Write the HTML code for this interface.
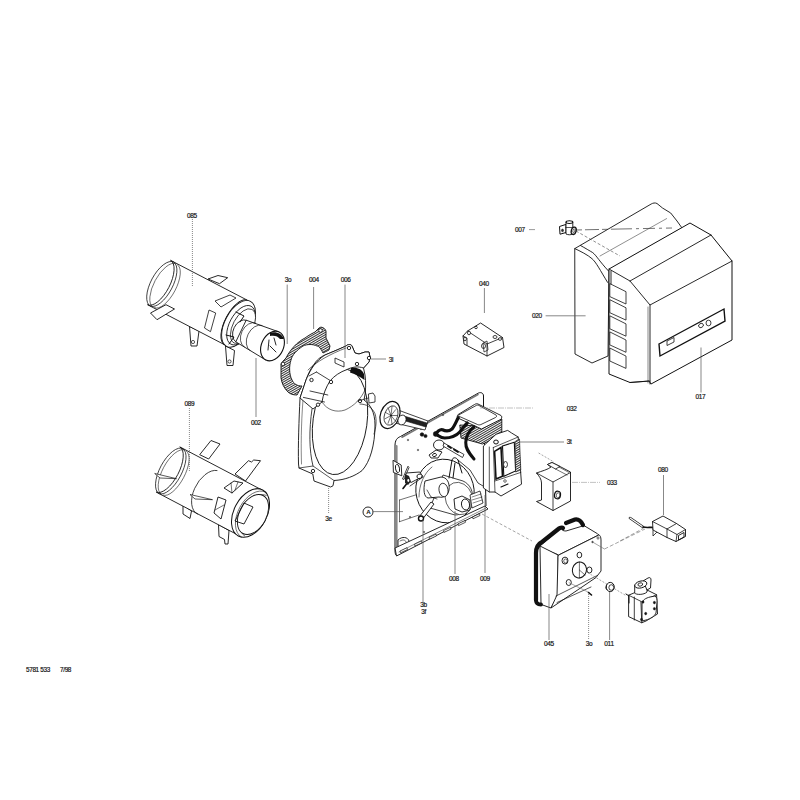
<!DOCTYPE html><html><head><meta charset="utf-8"><style>html,body{margin:0;padding:0;background:#fff;width:800px;height:800px;overflow:hidden}</style></head><body><svg width="800" height="800" viewBox="0 0 800 800" style="position:absolute;left:0;top:0">
<defs><pattern id="hatch" width="2" height="2" patternUnits="userSpaceOnUse" patternTransform="rotate(60)"><rect width="2" height="2" fill="#fff"/><rect width="1" height="2" fill="#333"/></pattern></defs>
<g font-family="Liberation Sans, sans-serif" fill="#111">
<polygon points="208.0,279.0 218.0,275.5 227.7,277.7 219.5,283.7" fill="#fff" stroke="#111" stroke-width="0.9" stroke-linejoin="round" />
<polygon points="189.5,326.5 199.0,331.0 197.0,346.0 191.0,346.0" fill="#fff" stroke="#111" stroke-width="0.9" stroke-linejoin="round" />
<polygon points="225.5,346.0 234.5,350.5 233.0,365.5 227.0,365.5" fill="#fff" stroke="#111" stroke-width="0.9" stroke-linejoin="round" />
<ellipse cx="193" cy="342" rx="1.6" ry="1.6" transform="rotate(0 193 342)" fill="none" stroke="#111" stroke-width="0.7" />
<ellipse cx="229.5" cy="361.5" rx="1.6" ry="1.6" transform="rotate(0 229.5 361.5)" fill="none" stroke="#111" stroke-width="0.7" />
<path d="M147.5,304.7 L224.5,344.7 L247.5,300.3 L170.5,260.3 A11.0,25.0 27.5 0 1 147.5,304.7 Z" fill="#fff" stroke="#111" stroke-width="0.9"/>
<ellipse cx="236" cy="322.5" rx="11.0" ry="25" transform="rotate(27.45099777093223 236 322.5)" fill="#fff" stroke="#111" stroke-width="0.9" />
<path d="M150.1,306.1 A11.0,25.0 28.0 0 1 173.5,261.9" fill="none" stroke="#111" stroke-width="0.8" stroke-linejoin="round" stroke-linecap="round" />
<path d="M152.5,306.8 A10.5,24.5 28.0 0 1 175.5,263.6" fill="none" stroke="#111" stroke-width="0.6" stroke-linejoin="round" stroke-linecap="round" />
<path d="M150.9,306.2 A10.5,24.8 28.0 0 0 174.1,262.4" fill="none" stroke="#111" stroke-width="0.8" stroke-linejoin="round" stroke-linecap="round" />
<path d="M154.6,307.7 A10.0,24.3 28.0 0 0 177.4,264.7" fill="none" stroke="#111" stroke-width="0.6" stroke-linejoin="round" stroke-linecap="round" />
<ellipse cx="238.5" cy="323.8" rx="13.5" ry="25.5" transform="rotate(28 238.5 323.8)" fill="#fff" stroke="#111" stroke-width="0.9" />
<ellipse cx="241" cy="325.2" rx="11.5" ry="21.5" transform="rotate(28 241 325.2)" fill="#fff" stroke="#111" stroke-width="0.8" />
<ellipse cx="243" cy="326.2" rx="10" ry="19" transform="rotate(28 243 326.2)" fill="#fff" stroke="#111" stroke-width="0.7" />
<path d="M236,312 L244,316 L240,322 M226,335 L234,337 L229,344" fill="none" stroke="#111" stroke-width="1.0" stroke-linejoin="round" stroke-linecap="round" />
<polygon points="215.0,301.0 230.0,295.0 236.0,298.0 221.0,307.0" fill="none" stroke="#111" stroke-width="0.8" stroke-linejoin="round" />
<polygon points="204.5,328.0 209.0,310.0 215.7,313.0 210.5,331.7" fill="none" stroke="#111" stroke-width="0.8" stroke-linejoin="round" />
<polygon points="150.5,313.0 166.0,304.7 174.5,309.0 157.0,319.7" fill="#fff" stroke="#111" stroke-width="0.9" stroke-linejoin="round" />
<polygon points="235.8,341.8 265.8,360.0 279.2,332.0 246.2,320.2" fill="#fff" stroke="#111" stroke-width="0.9" stroke-linejoin="round" />
<path d="M235.8,341.8 A8.0,12.0 25.5 0 1 246.2,320.2" fill="none" stroke="#111" stroke-width="0.9" stroke-linejoin="round" stroke-linecap="round" />
<path d="M244.3,346.9 A9.0,13.2 25.5 0 1 255.7,323.1" fill="none" stroke="#111" stroke-width="0.7" stroke-linejoin="round" stroke-linecap="round" />
<path d="M250.0,350.6 A9.5,14.0 25.5 0 1 262.0,325.4" fill="none" stroke="#111" stroke-width="0.7" stroke-linejoin="round" stroke-linecap="round" />
<ellipse cx="272.5" cy="346" rx="11" ry="15.5" transform="rotate(25 272.5 346)" fill="#fff" stroke="#111" stroke-width="1.1" />
<path d="M270,333 C276,331 282,334 284,339 L280,339 C278,336 274,335 270,336 Z" fill="#111"/>
<path d="M269,340 L268,350 M270,346 L276,352 M274,338 L276,345" fill="none" stroke="#111" stroke-width="0.9" stroke-linejoin="round" stroke-linecap="round" />
<polygon points="199.7,454.7 211.0,440.5 220.0,444.0 208.7,459.0" fill="#fff" stroke="#111" stroke-width="0.9" stroke-linejoin="round" />
<polygon points="235.0,474.0 248.5,460.7 251.5,462.0 253.7,460.0 260.5,460.7 245.5,481.0" fill="#fff" stroke="#111" stroke-width="0.9" stroke-linejoin="round" />
<polygon points="183.0,505.0 183.0,514.0 190.0,518.5 191.5,511.0" fill="#fff" stroke="#111" stroke-width="0.9" stroke-linejoin="round" />
<polygon points="218.5,524.5 219.0,536.5 224.5,539.5 225.0,544.0 228.0,544.0 229.0,530.5" fill="#fff" stroke="#111" stroke-width="0.9" stroke-linejoin="round" />
<path d="M156.2,492.1 L237.2,534.6 L260.8,489.4 L179.8,446.9 A11.2,25.5 27.7 0 1 156.2,492.1 Z" fill="#fff" stroke="#111" stroke-width="0.9"/>
<ellipse cx="249" cy="512" rx="11.22" ry="25.5" transform="rotate(27.685608130887488 249 512)" fill="#fff" stroke="#111" stroke-width="0.9" />
<path d="M158.8,493.5 A11.0,25.5 28.0 0 1 182.8,448.5" fill="none" stroke="#111" stroke-width="0.8" stroke-linejoin="round" stroke-linecap="round" />
<path d="M161.3,494.3 A10.5,25.0 28.0 0 1 184.7,450.1" fill="none" stroke="#111" stroke-width="0.6" stroke-linejoin="round" stroke-linecap="round" />
<path d="M159.6,493.7 A10.5,25.3 28.0 0 0 183.4,449.1" fill="none" stroke="#111" stroke-width="0.8" stroke-linejoin="round" stroke-linecap="round" />
<path d="M163.4,495.2 A10.0,24.8 28.0 0 0 186.6,451.4" fill="none" stroke="#111" stroke-width="0.6" stroke-linejoin="round" stroke-linecap="round" />
<path d="M217,470.5 A14,24 28 0 0 197.5,514" fill="none" stroke="#111" stroke-width="0.8" stroke-linejoin="round" stroke-linecap="round" />
<ellipse cx="250.5" cy="513" rx="16.5" ry="26" transform="rotate(28 250.5 513)" fill="#fff" stroke="#111" stroke-width="1.0" />
<path d="M241.5,537.1 A15.5,25.5 28.0 0 1 265.5,492.1" fill="none" stroke="#111" stroke-width="0.6" stroke-linejoin="round" stroke-linecap="round" />
<path d="M244.7,536.0 A14.0,23.0 28.0 0 1 266.3,495.4" fill="none" stroke="#111" stroke-width="0.6" stroke-linejoin="round" stroke-linecap="round" />
<ellipse cx="253" cy="514.5" rx="13.5" ry="21.5" transform="rotate(28 253 514.5)" fill="#fff" stroke="#111" stroke-width="0.9" />
<polygon points="244.0,503.0 253.0,507.0 244.0,524.0 235.0,521.0" fill="none" stroke="#111" stroke-width="0.9" stroke-linejoin="round" />
<polygon points="224.0,488.0 234.0,481.0 243.0,483.0 232.0,493.0" fill="none" stroke="#111" stroke-width="0.9" stroke-linejoin="round" />
<path d="M231,483 L232,493 M238,482 L235,490" fill="none" stroke="#111" stroke-width="0.6" stroke-linejoin="round" stroke-linecap="round" />
<polygon points="214.0,513.0 218.0,497.0 226.0,500.0 221.0,519.0" fill="none" stroke="#111" stroke-width="0.9" stroke-linejoin="round" />
<path d="M215,510 L224,505" fill="none" stroke="#111" stroke-width="0.6" stroke-linejoin="round" stroke-linecap="round" />
<polygon points="154.7,473.5 176.5,478.7 160.0,478.0" fill="#fff" stroke="#111" stroke-width="0.7" stroke-linejoin="round" />
<polygon points="190.0,494.5 212.5,499.7 195.0,499.0" fill="#fff" stroke="#111" stroke-width="0.7" stroke-linejoin="round" />
<path d="M319,328 C321,326 325,328 326,331 L326,338 L330,346 L329,350 L323,353 C321,349 319,346 317,346 C313,344 307,344 303,346 C297,350 292,355 291,360 C289,366 289,374 292,380 C294,384 297,386 302,386 L297,395 C293,395 290,394 288,392 C284,388 282,384 281,378 L281,364 C282,362 283,361 286,358 C290,350 297,342 305,338 C309,335 313,333 315,332 Z" fill="url(#hatch)" stroke="#111" stroke-width="0.9"/>
<ellipse cx="320.5" cy="330.5" rx="1.8" ry="1.8" transform="rotate(0 320.5 330.5)" fill="#fff" stroke="#111" stroke-width="0.8" />
<ellipse cx="283" cy="364" rx="1.8" ry="1.8" transform="rotate(0 283 364)" fill="#fff" stroke="#111" stroke-width="0.8" />
<path d="M300,398 C299,420 298,445 298.5,464 L299,468 L312.8,474 L314,481 L330.6,487 L333,485.8 L334,480.5 C345,480 355,476 362,470.6 C370,462 375,445 375,425 C375,412 370,404 364,400 C366,392 366,382 365,375 L363.5,368 L369,362 L370,357 L369,352 L365,352 L359,354 L355,353 L352,346 C351,344 348,344 346,346 L337,350 L325,355 C320,357 316,361 315,363 C311,368 308,374 306,380 Z" fill="#fff" stroke="#111" stroke-width="0.9"/>
<ellipse cx="340" cy="422" rx="27" ry="53" transform="rotate(8 340 422)" fill="none" stroke="#111" stroke-width="0.9" />
<path d="M312,409 C309,430 309,450 313,466" fill="none" stroke="#111" stroke-width="0.8" stroke-linejoin="round" stroke-linecap="round" />
<path d="M303,400 C301,425 301,448 301.5,464" fill="none" stroke="#111" stroke-width="0.5" stroke-linejoin="round" stroke-linecap="round" />
<path d="M299,468 L313,466 L334,480.5" fill="none" stroke="#111" stroke-width="0.7" stroke-linejoin="round" stroke-linecap="round" />
<path d="M300,398 L306,380 C311,368 316,361 325,355 L337,350 L346,346 C348,344 351,344 352,346 L355,353 L359,354 L365,352 L369,352 L370,357 L369,362 L363.5,368 C358,366 352,367 347,369.5 C340,372 334,376 330,381 C326,387 323,395 322,402 L313,409 Z" fill="#fff" stroke="#111" stroke-width="0.9"/>
<path d="M322,402 C327,410 336,413 345,410 C354,406 361,399 365,390" fill="none" stroke="#111" stroke-width="0.6" stroke-linejoin="round" stroke-linecap="round" />
<path d="M351,368 C357,367 362,369 364,374 L364.5,380 C360,377 356,374 350,372.5 Z" fill="#111"/>
<path d="M303.4,397.4 L324.5,402 M316.4,372 L331,381 M310,391 L327.8,395 M309,376 L316.4,372" fill="none" stroke="#111" stroke-width="0.8" stroke-linejoin="round" stroke-linecap="round" />
<path d="M308,370 C316,362 330,354 346,348" fill="none" stroke="#111" stroke-width="0.6" stroke-linejoin="round" stroke-linecap="round" />
<polygon points="335.0,358.0 344.0,362.0 344.0,367.0 335.0,363.0" fill="none" stroke="#111" stroke-width="0.8" stroke-linejoin="round" />
<ellipse cx="311.5" cy="380" rx="1.7" ry="1.7" transform="rotate(0 311.5 380)" fill="#fff" stroke="#111" stroke-width="0.9" />
<ellipse cx="331" cy="382" rx="1.7" ry="1.7" transform="rotate(0 331 382)" fill="#fff" stroke="#111" stroke-width="0.9" />
<ellipse cx="318" cy="404.7" rx="1.7" ry="1.7" transform="rotate(0 318 404.7)" fill="#fff" stroke="#111" stroke-width="0.9" />
<ellipse cx="349" cy="348" rx="1.7" ry="1.7" transform="rotate(0 349 348)" fill="#fff" stroke="#111" stroke-width="0.9" />
<ellipse cx="369" cy="358" rx="1.7" ry="1.7" transform="rotate(0 369 358)" fill="#fff" stroke="#111" stroke-width="0.9" />
<ellipse cx="357" cy="364" rx="1.7" ry="1.7" transform="rotate(0 357 364)" fill="#fff" stroke="#111" stroke-width="0.9" />
<ellipse cx="360" cy="401" rx="1.7" ry="1.7" transform="rotate(0 360 401)" fill="#fff" stroke="#111" stroke-width="0.9" />
<ellipse cx="313" cy="471" rx="1.7" ry="1.7" transform="rotate(0 313 471)" fill="#fff" stroke="#111" stroke-width="0.9" />
<path d="M360,404 C366,404 372,407 375,413.7 C377,420 376,428 374,434" fill="none" stroke="#111" stroke-width="0.7" stroke-linejoin="round" stroke-linecap="round" />
<polygon points="368.4,394.0 373.0,393.0 375.0,396.0 375.0,402.0 369.0,403.0" fill="#fff" stroke="#111" stroke-width="0.8" stroke-linejoin="round" />
<path d="M358,401 L368.4,398" fill="none" stroke="#111" stroke-width="0.7" stroke-linejoin="round" stroke-linecap="round" />
<path d="M400.5,436.5 L478.5,393 C481,392 483.5,393 483.5,396 L483.5,405 L486,506 L396.5,555.5 C395.5,555 395,553 395,550 L395,446 C395,440 397,438 400.5,436.5 Z" fill="#fff" stroke="#111" stroke-width="1"/>
<path d="M396.5,446 L396.5,552" fill="none" stroke="#888" stroke-width="2.2" stroke-linejoin="round" stroke-linecap="round" />
<path d="M402,437.2 L478,394.5" fill="none" stroke="#777" stroke-width="1.6" stroke-linejoin="round" stroke-linecap="round" />
<polygon points="393.0,460.3 401.2,465.0 401.8,475.8 393.4,472.4" fill="#fff" stroke="#111" stroke-width="0.9" stroke-linejoin="round" />
<ellipse cx="397.5" cy="468.5" rx="2" ry="4.2" transform="rotate(-10 397.5 468.5)" fill="none" stroke="#111" stroke-width="0.9" />
<path d="M398,540 C402,536 408,537 409,541 L409,546 C405,549 399,549 398,546 Z" fill="#fff" stroke="#111" stroke-width="0.9"/>
<path d="M400,541 C403,539 406,540 406,542" fill="none" stroke="#111" stroke-width="0.6" stroke-linejoin="round" stroke-linecap="round" />
<path d="M399.5,500 L423.5,492.5 M399.5,521.7 L419,515 M399.5,500 L399.5,521.7" fill="none" stroke="#111" stroke-width="0.6" stroke-linejoin="round" stroke-linecap="round" />
<ellipse cx="408" cy="440" rx="0.8" ry="0.8" transform="rotate(0 408 440)" fill="#555" stroke="#111" stroke-width="0.3" />
<ellipse cx="421" cy="429" rx="0.8" ry="0.8" transform="rotate(0 421 429)" fill="#555" stroke="#111" stroke-width="0.3" />
<ellipse cx="443" cy="415" rx="0.8" ry="0.8" transform="rotate(0 443 415)" fill="#555" stroke="#111" stroke-width="0.3" />
<ellipse cx="424" cy="532" rx="0.8" ry="0.8" transform="rotate(0 424 532)" fill="#555" stroke="#111" stroke-width="0.3" />
<ellipse cx="410" cy="517" rx="0.8" ry="0.8" transform="rotate(0 410 517)" fill="#555" stroke="#111" stroke-width="0.3" />
<ellipse cx="430" cy="467" rx="0.8" ry="0.8" transform="rotate(0 430 467)" fill="#555" stroke="#111" stroke-width="0.3" />
<ellipse cx="418" cy="450" rx="0.8" ry="0.8" transform="rotate(0 418 450)" fill="#555" stroke="#111" stroke-width="0.3" />
<ellipse cx="445" cy="491" rx="29" ry="32" transform="rotate(-15 445 491)" fill="#fff" stroke="#111" stroke-width="0.9" />
<path d="M419,497 C419,485 424,473 432,467" fill="none" stroke="#111" stroke-width="0.6" stroke-linejoin="round" stroke-linecap="round" />
<path d="M443,475 L463,481 C470,484 474,492 472,500 C470,509 463,515 455,515 L430,508 Z" fill="#fff" stroke="#111" stroke-width="0.8"/>
<ellipse cx="459" cy="498.5" rx="13.5" ry="16.5" transform="rotate(-20 459 498.5)" fill="#fff" stroke="#111" stroke-width="0.6" />
<ellipse cx="463" cy="503" rx="3" ry="3" transform="rotate(0 463 503)" fill="none" stroke="#111" stroke-width="0" />
<path d="M425,481 L441,477 C447,477 450,483 449,490 C448,496 443,498 439,497 L428,498 C424,497 423,490 425,481 Z" fill="#fff" stroke="#111" stroke-width="0.9"/>
<ellipse cx="443.5" cy="490" rx="4.5" ry="6.8" transform="rotate(-10 443.5 490)" fill="#fff" stroke="#111" stroke-width="0.8" />
<path d="M427,490 L431,497 L437,499" fill="none" stroke="#111" stroke-width="0.7" stroke-linejoin="round" stroke-linecap="round" />
<path d="M419,517 L431,502 L434,504 L422,520 Z" fill="#fff" stroke="#111" stroke-width="0.9"/>
<ellipse cx="421" cy="518.5" rx="2.5" ry="2.5" transform="rotate(0 421 518.5)" fill="#fff" stroke="#111" stroke-width="1.4" />
<path d="M449,478 L452,460 C453,457 456,457 458,460 L462,473 M453,478 L455,463" fill="none" stroke="#111" stroke-width="1.0" stroke-linejoin="round" stroke-linecap="round" />
<path d="M458,460 L470,470 L478,483 L483,486" fill="none" stroke="#111" stroke-width="0.8" stroke-linejoin="round" stroke-linecap="round" />
<path d="M454,499 L462,496 L470,500 L470,510 L462,512 L455,509 Z" fill="#fff" stroke="#111" stroke-width="0.9"/>
<ellipse cx="465.5" cy="504.5" rx="4" ry="5.5" transform="rotate(-10 465.5 504.5)" fill="#fff" stroke="#111" stroke-width="0.9" />
<polygon points="470.0,495.0 480.0,491.0 483.0,503.0 472.0,508.0" fill="#fff" stroke="#111" stroke-width="0.8" stroke-linejoin="round" />
<path d="M472,497 L481,494 M472,500 L482,497 M473,503 L482,500" fill="none" stroke="#111" stroke-width="0.5" stroke-linejoin="round" stroke-linecap="round" />
<path d="M395,548 L485,506 L488,509 L396.5,556 Z" fill="#fff" stroke="#111" stroke-width="0.9"/>
<path d="M399,552 L486,508" fill="none" stroke="#111" stroke-width="0.5" stroke-linejoin="round" stroke-linecap="round" />
<polygon points="400.0,551.0 407.0,547.7 407.5,549.5 400.5,552.8" fill="#fff" stroke="#111" stroke-width="0.7" stroke-linejoin="round" />
<polygon points="414.5,544.2 421.5,540.9 422.0,542.7 415.0,546.0" fill="#fff" stroke="#111" stroke-width="0.7" stroke-linejoin="round" />
<polygon points="429.0,537.4 436.0,534.1 436.5,535.9 429.5,539.2" fill="#fff" stroke="#111" stroke-width="0.7" stroke-linejoin="round" />
<polygon points="443.5,530.6 450.5,527.3 451.0,529.1 444.0,532.4" fill="#fff" stroke="#111" stroke-width="0.7" stroke-linejoin="round" />
<polygon points="458.0,523.8 465.0,520.5 465.5,522.3 458.5,525.6" fill="#fff" stroke="#111" stroke-width="0.7" stroke-linejoin="round" />
<polygon points="472.5,517.0 479.5,513.7 480.0,515.5 473.0,518.8" fill="#fff" stroke="#111" stroke-width="0.7" stroke-linejoin="round" />
<path d="M398,410 L428,421 L425,430 L395,423 Z" fill="#fff" stroke="#111" stroke-width="0.8"/>
<path d="M404,416 L427,423 L426,427 L402,420 Z" fill="#222" stroke="#111" stroke-width="0.6"/>
<ellipse cx="390" cy="415" rx="9.5" ry="14" transform="rotate(20 390 415)" fill="#fff" stroke="#111" stroke-width="1.2" />
<ellipse cx="391" cy="415.5" rx="6.5" ry="10" transform="rotate(20 391 415.5)" fill="#fff" stroke="#111" stroke-width="0.7" />
<path d="M391,415.5 L397.0,415.5" fill="none" stroke="#111" stroke-width="0.6" stroke-linejoin="round" stroke-linecap="round" />
<path d="M391,415.5 L395.6,421.3" fill="none" stroke="#111" stroke-width="0.6" stroke-linejoin="round" stroke-linecap="round" />
<path d="M391,415.5 L392.0,424.4" fill="none" stroke="#111" stroke-width="0.6" stroke-linejoin="round" stroke-linecap="round" />
<path d="M391,415.5 L388.0,423.3" fill="none" stroke="#111" stroke-width="0.6" stroke-linejoin="round" stroke-linecap="round" />
<path d="M391,415.5 L385.4,418.6" fill="none" stroke="#111" stroke-width="0.6" stroke-linejoin="round" stroke-linecap="round" />
<path d="M391,415.5 L385.4,412.4" fill="none" stroke="#111" stroke-width="0.6" stroke-linejoin="round" stroke-linecap="round" />
<path d="M391,415.5 L388.0,407.7" fill="none" stroke="#111" stroke-width="0.6" stroke-linejoin="round" stroke-linecap="round" />
<path d="M391,415.5 L392.0,406.6" fill="none" stroke="#111" stroke-width="0.6" stroke-linejoin="round" stroke-linecap="round" />
<path d="M391,415.5 L395.6,409.7" fill="none" stroke="#111" stroke-width="0.6" stroke-linejoin="round" stroke-linecap="round" />
<ellipse cx="402" cy="420" rx="4" ry="5" transform="rotate(20 402 420)" fill="#fff" stroke="#111" stroke-width="0.8" />
<path d="M459.8,425 L461,438 L482.5,444 L501.8,435 L501.8,419 L481,426 Z" fill="url(#hatch)" stroke="#111" stroke-width="0.9"/>
<path d="M457.9,414.7 C457,416 457,418 457.9,418 L481.5,429 L501,419.3 C502,418 502,416 501,415.5 L478,404 C477,403.5 475.5,403.8 474.5,404.5 Z" fill="#fff" stroke="#111" stroke-width="0.9"/>
<path d="M459,414.8 L476.2,405.5 C477,405 478,405 479,405.5 L496,415 C497,416 496.5,417 495.5,417.5 L481,424.5 C480,425 478.5,425 477.5,424.5 L459.5,416.5 C458.5,416 458.5,415.2 459,414.8 Z" fill="#fff" stroke="#111" stroke-width="0.8"/>
<path d="M458.25,417.75 C456,422 454,427 452,429 C449,431.5 446,431.5 442.5,429.75 C440,429 437,432 435.75,434.25" fill="none" stroke="#111" stroke-width="3.2" stroke-linejoin="round" stroke-linecap="round" />
<path d="M467.25,423 C464,426 461,431 459.75,432 C456,436 450,438 444.75,438 C441,438 439,436 437.25,435" fill="none" stroke="#111" stroke-width="3.2" stroke-linejoin="round" stroke-linecap="round" />
<path d="M474,426.75 C470,430 466,436 465.75,442.5 C465.5,448 468,452 474,459" fill="none" stroke="#111" stroke-width="3.0" stroke-linejoin="round" stroke-linecap="round" />
<path d="M483.4,446 L496,434.3 L507.7,430.4 L511.6,433 L518.2,437 L521.5,484.2 L501,496 L495,492 L489.3,492 L483.4,488 Z" fill="#fff" stroke="#111" stroke-width="0.9"/>
<path d="M489.3,447 L489.3,492 M493.3,447.5 L495,492 M493.3,447.5 L518.2,437" fill="none" stroke="#111" stroke-width="0.7" stroke-linejoin="round" stroke-linecap="round" />
<path d="M494.6,451.4 L501,447.5 L502.5,476.3 L496,479 Z" fill="#fff" stroke="#111" stroke-width="1.6"/>
<path d="M502.5,446 L514.3,442.2 L515.6,471 L503.8,476.3 Z" fill="#fff" stroke="#111" stroke-width="1.1"/>
<path d="M515.6,441 L519.5,439 L520.8,470 L515.6,472 Z" fill="url(#hatch)" stroke="#111" stroke-width="0.6"/>
<ellipse cx="505.5" cy="464.5" rx="2" ry="3" transform="rotate(0 505.5 464.5)" fill="#fff" stroke="#111" stroke-width="0.8" />
<path d="M495,481 L520.8,472.4" fill="none" stroke="#111" stroke-width="0.7" stroke-linejoin="round" stroke-linecap="round" />
<ellipse cx="496" cy="442" rx="2.3" ry="2" transform="rotate(0 496 442)" fill="#fff" stroke="#111" stroke-width="1.0" />
<path d="M501,487 L508,484" fill="none" stroke="#111" stroke-width="1.2" stroke-linejoin="round" stroke-linecap="round" />
<ellipse cx="505" cy="481" rx="1.3" ry="1.3" transform="rotate(0 505 481)" fill="none" stroke="#111" stroke-width="0.6" />
<ellipse cx="422" cy="434.5" rx="1.8" ry="1.8" transform="rotate(0 422 434.5)" fill="#111" stroke="#111" stroke-width="0.6" />
<ellipse cx="425.5" cy="436" rx="1.6" ry="1.6" transform="rotate(0 425.5 436)" fill="#111" stroke="#111" stroke-width="0.6" />
<ellipse cx="435.5" cy="434" rx="2.2" ry="2.4" transform="rotate(0 435.5 434)" fill="#111" stroke="#111" stroke-width="0.6" />
<ellipse cx="439" cy="445" rx="5.5" ry="5" transform="rotate(0 439 445)" fill="#fff" stroke="#111" stroke-width="0.9" />
<path d="M429,455 L436,450 L442,452 L438,458 L431,458 Z" fill="#fff" stroke="#111" stroke-width="0.9"/>
<ellipse cx="434.5" cy="455" rx="2" ry="1.5" transform="rotate(-20 434.5 455)" fill="#fff" stroke="#111" stroke-width="0.9" />
<path d="M444,443 L464,454.5 L462.5,457.5 L443,446 Z" fill="#fff" stroke="#111" stroke-width="0.8"/>
<path d="M448,446 L451,448 M454,449.5 L458,452" fill="none" stroke="#111" stroke-width="1.8" stroke-linejoin="round" stroke-linecap="round" />
<path d="M408,466.2 L409,467.5 L404,479.5 L402.5,479 Z" fill="#fff" stroke="#111" stroke-width="0.8"/>
<path d="M406.3,473 L419.8,472 L422.6,476.3 L415.3,480.3 L411,482.5 L405,477 Z" fill="#fff" stroke="#111" stroke-width="0.9"/>
<path d="M405,474 L409,476 L411,481.5 L408,485 L405,483 Z" fill="#222"/>
<ellipse cx="408.3" cy="480.5" rx="1" ry="1.4" transform="rotate(0 408.3 480.5)" fill="#fff" stroke="#111" stroke-width="0" />
<path d="M403,488.5 L406.5,484" fill="none" stroke="#111" stroke-width="1.6" stroke-linejoin="round" stroke-linecap="round" />
<ellipse cx="419.5" cy="476.3" rx="2.6" ry="2.2" transform="rotate(-20 419.5 476.3)" fill="#fff" stroke="#111" stroke-width="0.9" />
<path d="M410,486 L423,477" fill="none" stroke="#111" stroke-width="0.8" stroke-linejoin="round" stroke-linecap="round" />
<path d="M536.5,473 C539,476 541.5,479 541.5,483 L541.5,500 L536.5,501.5 L553,510.5 L570.5,501 L570.5,472 L560,466.5 L552,462.5 L547.5,464.5 L551,467 C548,469.5 542,471 536.5,473 Z" fill="#fff" stroke="#111" stroke-width="0.9"/>
<path d="M536.5,473 L553,482 L570.5,472.5 M553,482 L553,510.5" fill="none" stroke="#111" stroke-width="0.8" stroke-linejoin="round" stroke-linecap="round" />
<polygon points="547.5,464.5 552.0,462.5 560.0,466.5 555.5,469.0" fill="#fff" stroke="#111" stroke-width="0.8" stroke-linejoin="round" />
<path d="M555.5,469 L567,475 M559,467 L569,472.5" fill="none" stroke="#111" stroke-width="0.6" stroke-linejoin="round" stroke-linecap="round" />
<ellipse cx="557.5" cy="495" rx="3" ry="3.8" transform="rotate(10 557.5 495)" fill="#fff" stroke="#111" stroke-width="1.2" />
<ellipse cx="558" cy="495.3" rx="1.8" ry="2.5" transform="rotate(10 558 495.3)" fill="none" stroke="#111" stroke-width="0.6" />
<line x1="538.6" y1="453" x2="554" y2="462" stroke="#666" stroke-width="0.6" stroke-dasharray="2,1.5"/>
<path d="M540,547.5 L558.75,555 L598.75,535 L597.5,533.75 L584,525.6 L566,531 C560,531 562,527 562,527 L540,546 Z" fill="#fff" stroke="#111" stroke-width="0.9"/>
<path d="M540,546 L541,604.4 L551,608 L558,595 L558,555 Z" fill="#fff" stroke="#111" stroke-width="0.9"/>
<path d="M558.75,555 C558,556 558,557 558,558 L557,595 L551,608 L596,577.5 L601,571 L601,540 C601,537 600,535 598.75,535 Z" fill="#fff" stroke="#111" stroke-width="0.9"/>
<path d="M556,596 L597,575.6 M557,602.5 L591,587" fill="none" stroke="#111" stroke-width="0.7" stroke-linejoin="round" stroke-linecap="round" />
<path d="M536,600 L536,553 C536,548 538,544 542,542 L559,528.5 C561,527.5 562,527 563,528 M566,523 L575,519.5 C578,519 581,521 583,525" fill="none" stroke="#111" stroke-width="4.2" stroke-linejoin="round" stroke-linecap="round" />
<path d="M536,600 C536,603 538,604.5 541,604.5" fill="none" stroke="#111" stroke-width="3.8" stroke-linejoin="round" stroke-linecap="round" />
<ellipse cx="579.4" cy="570" rx="7" ry="8" transform="rotate(15 579.4 570)" fill="#fff" stroke="#111" stroke-width="1.0" />
<path d="M579.4,562 L579.4,578 M579.4,570 L585,575" fill="none" stroke="#111" stroke-width="0.6" stroke-linejoin="round" stroke-linecap="round" />
<ellipse cx="565" cy="560.6" rx="2.975" ry="3.5" transform="rotate(0 565 560.6)" fill="#fff" stroke="#111" stroke-width="0.9" />
<ellipse cx="579.4" cy="555" rx="2.38" ry="2.8" transform="rotate(0 579.4 555)" fill="#fff" stroke="#111" stroke-width="0.9" />
<ellipse cx="589.4" cy="570" rx="2.55" ry="3" transform="rotate(0 589.4 570)" fill="#fff" stroke="#111" stroke-width="0.9" />
<ellipse cx="568.75" cy="582.5" rx="2.55" ry="3" transform="rotate(0 568.75 582.5)" fill="#fff" stroke="#111" stroke-width="0.9" />
<ellipse cx="565.5" cy="561" rx="1.8" ry="2" transform="rotate(0 565.5 561)" fill="none" stroke="#111" stroke-width="0.6" />
<ellipse cx="592.5" cy="542" rx="0.8" ry="0.8" transform="rotate(0 592.5 542)" fill="#333" stroke="#111" stroke-width="0.4" />
<ellipse cx="598" cy="538" rx="1" ry="1.2" transform="rotate(0 598 538)" fill="none" stroke="#111" stroke-width="0.6" />
<line x1="482" y1="514" x2="532" y2="541" stroke="#666" stroke-width="0.6" stroke-dasharray="3,2"/>
<line x1="592.5" y1="542" x2="604.5" y2="549" stroke="#666" stroke-width="0.6"/>
<line x1="604.5" y1="549" x2="645" y2="529" stroke="#666" stroke-width="0.6" stroke-dasharray="4,2"/>
<line x1="587.5" y1="572.5" x2="626" y2="595.6" stroke="#666" stroke-width="0.6" stroke-dasharray="2,1.5"/>
<line x1="568.75" y1="582.5" x2="590" y2="593" stroke="#666" stroke-width="0.6"/>
<path d="M588.5,592.5 L591.5,595" fill="none" stroke="#111" stroke-width="1.6" stroke-linejoin="round" stroke-linecap="round" />
<ellipse cx="610.25" cy="587" rx="4" ry="4.6" transform="rotate(0 610.25 587)" fill="#fff" stroke="#111" stroke-width="1.0" />
<ellipse cx="611.3" cy="587.5" rx="2.4" ry="2.8" transform="rotate(0 611.3 587.5)" fill="#fff" stroke="#111" stroke-width="0.8" />
<path d="M606.5,585 L605.5,588 L607,590" fill="none" stroke="#111" stroke-width="0.6" stroke-linejoin="round" stroke-linecap="round" />
<path d="M628.6,595.2 L633.9,593 L647.9,590.4 L656.6,594.75 L657.5,614 L646,621 L641.75,622.75 L628.6,616.6 Z" fill="#fff" stroke="#111" stroke-width="0.9"/>
<path d="M628.6,595.2 L641.75,601.75 L656.6,594.75 M640.9,601.75 L641.75,622.75 M634.3,597 L634.3,620" fill="none" stroke="#111" stroke-width="0.8" stroke-linejoin="round" stroke-linecap="round" />
<path d="M642,604 C642,600 646,598 650,597 L655,596 C657,597 657,600 657,602 L656,613 C655,616 650,619 646,620 L642,621 Z" fill="#fff" stroke="#111" stroke-width="0.9"/>
<ellipse cx="654.4" cy="602.6" rx="1.1" ry="1.3" transform="rotate(0 654.4 602.6)" fill="#111" stroke="#111" stroke-width="0.4" />
<ellipse cx="654.4" cy="608.7" rx="1.1" ry="1.3" transform="rotate(0 654.4 608.7)" fill="#111" stroke="#111" stroke-width="0.4" />
<ellipse cx="645.7" cy="613.6" rx="1.1" ry="1.3" transform="rotate(0 645.7 613.6)" fill="#111" stroke="#111" stroke-width="0.4" />
<ellipse cx="641.5" cy="619.5" rx="1.1" ry="1.3" transform="rotate(0 641.5 619.5)" fill="#111" stroke="#111" stroke-width="0.4" />
<ellipse cx="643" cy="602" rx="1.1" ry="1.3" transform="rotate(0 643 602)" fill="#111" stroke="#111" stroke-width="0.4" />
<path d="M634.7,585 L634.7,593 C636,595 644,595 647,592 L647,586 Z" fill="#fff" stroke="#111" stroke-width="0.9"/>
<path d="M643,581 L648,578 C650,577 651,578 651,580 L650.5,588 L647,590 Z" fill="#fff" stroke="#111" stroke-width="0.9"/>
<ellipse cx="640.8" cy="584.5" rx="6.2" ry="3.4" transform="rotate(-15 640.8 584.5)" fill="#fff" stroke="#111" stroke-width="0.9" />
<ellipse cx="640.3" cy="584.5" rx="2.4" ry="1.6" transform="rotate(-15 640.3 584.5)" fill="#fff" stroke="#111" stroke-width="0.8" />
<path d="M626,594 L629,596 L629,603" fill="none" stroke="#111" stroke-width="1.0" stroke-linejoin="round" stroke-linecap="round" />
<line x1="620" y1="541" x2="643" y2="528.5" stroke="#666" stroke-width="0.6" stroke-dasharray="4,2"/>
<path d="M630,518 L643,527" fill="none" stroke="#111" stroke-width="2.6" stroke-linejoin="round" stroke-linecap="round" />
<path d="M630,518 L643,527" fill="none" stroke="#fff" stroke-width="1.2" stroke-linejoin="round" stroke-linecap="round" />
<path d="M643,527 C647,528 650,527 654,527.5" fill="none" stroke="#111" stroke-width="1.6" stroke-linejoin="round" stroke-linecap="round" />
<polygon points="653.0,527.0 659.0,530.0 653.0,536.0" fill="#fff" stroke="#111" stroke-width="0.8" stroke-linejoin="round" />
<path d="M652.5,521.5 L663,516 L676.5,523.5 L685.5,529.5 L685.5,536.5 L676,541.5 L667,537.5 L653,530 Z" fill="#fff" stroke="#111" stroke-width="0.9"/>
<path d="M652.5,521.5 L667,529 L676.5,523.5 M667,529 L667,537.5 M667,529 L677,534.5 L685.5,529.5 M677,534.5 L676,541.5" fill="none" stroke="#111" stroke-width="0.8" stroke-linejoin="round" stroke-linecap="round" />
<polygon points="678.5,535.5 684.0,532.5 684.0,537.0 678.5,540.0" fill="none" stroke="#111" stroke-width="0.9" stroke-linejoin="round" />
<path d="M463,336 L467.5,331 L480.6,323 L502.5,337.5 L504,347.5 L487,356 L464,344 Z" fill="#fff" stroke="#111" stroke-width="0.9"/>
<path d="M467.5,331 L487,344 L502.5,337.5 M487,344 L487,356 M463,336 L467,338 L467,345" fill="none" stroke="#111" stroke-width="0.8" stroke-linejoin="round" stroke-linecap="round" />
<ellipse cx="476" cy="327.5" rx="1.3" ry="1.2" transform="rotate(0 476 327.5)" fill="none" stroke="#111" stroke-width="0.8" />
<ellipse cx="469" cy="333" rx="1.5" ry="1.8" transform="rotate(0 469 333)" fill="#fff" stroke="#111" stroke-width="0.8" />
<ellipse cx="465" cy="339" rx="1.4" ry="1.8" transform="rotate(0 465 339)" fill="#fff" stroke="#111" stroke-width="0.8" />
<ellipse cx="483.5" cy="346" rx="2" ry="2.5" transform="rotate(0 483.5 346)" fill="#fff" stroke="#111" stroke-width="0.8" />
<polygon points="483.0,343.0 487.0,341.0 488.0,350.0 484.0,352.0" fill="none" stroke="#111" stroke-width="0.7" stroke-linejoin="round" />
<ellipse cx="495" cy="337" rx="2" ry="1.5" transform="rotate(0 495 337)" fill="#fff" stroke="#111" stroke-width="0.8" />
<ellipse cx="500" cy="339" rx="1.6" ry="1.3" transform="rotate(0 500 339)" fill="#fff" stroke="#111" stroke-width="0.8" />
<path d="M574.75,248.6 L651.2,204 C653,203 655,202.5 657,203.5 L662.5,208 L670.7,213 L677,221 L682,228 L609,270 L608,356 L592,363 L575,354 Z" fill="#fff" stroke="#111" stroke-width="0.9"/>
<path d="M574.8,248.6 C580,251 588,255 592,258.7 C596,262 600,270 607.6,282.4" fill="none" stroke="#111" stroke-width="0.9" stroke-linejoin="round" stroke-linecap="round" />
<path d="M580.5,245.5 C585,248 590,251 592.7,252.6 C596,255 600,262 608.5,271" fill="none" stroke="#111" stroke-width="0.9" stroke-linejoin="round" stroke-linecap="round" />
<path d="M600,256 L666.6,218.6" fill="none" stroke="#444" stroke-width="0.6" stroke-linejoin="round" stroke-linecap="round" />
<line x1="576" y1="230" x2="620" y2="229" stroke="#333" stroke-width="0.7" stroke-dasharray="6,3,14,3"/>
<line x1="576" y1="231" x2="620" y2="256" stroke="#444" stroke-width="0.6" stroke-dasharray="3,2"/>
<line x1="620" y1="229" x2="672" y2="228" stroke="#333" stroke-width="0.7" stroke-dasharray="12,4,3,4"/>
<polygon points="559.5,226.5 566.0,224.4 566.0,232.5 560.0,234.2" fill="#fff" stroke="#111" stroke-width="1.0" stroke-linejoin="round" />
<ellipse cx="562.5" cy="230.4" rx="1" ry="1.3" transform="rotate(0 562.5 230.4)" fill="#333" stroke="#111" stroke-width="0.5" />
<path d="M566,222 L566,234 C568,235 571,235 572.8,234 L572.8,222 Z" fill="#fff" stroke="#111" stroke-width="0.9"/>
<ellipse cx="569.4" cy="222.1" rx="3.4" ry="1.4" transform="rotate(0 569.4 222.1)" fill="#fff" stroke="#111" stroke-width="1.1" />
<path d="M566,227.5 L572.8,227.5" fill="none" stroke="#111" stroke-width="0.7" stroke-linejoin="round" stroke-linecap="round" />
<ellipse cx="573.7" cy="230.8" rx="2.4" ry="3.7" transform="rotate(15 573.7 230.8)" fill="#fff" stroke="#111" stroke-width="1.3" />
<ellipse cx="573.9" cy="230.8" rx="1" ry="2" transform="rotate(15 573.9 230.8)" fill="none" stroke="#111" stroke-width="0.6" />
<path d="M609,269 L690,223 L711,235 L732,261 L732,340 L651,384 L649,381 L630,382.5 L609,374 Z" fill="#fff" stroke="#111" stroke-width="1"/>
<path d="M609,269 L630,281 L650,305 L732,261 M630,281 L711,235 M650,305 L650,384 M611,271 L611,284" fill="none" stroke="#111" stroke-width="0.9" stroke-linejoin="round" stroke-linecap="round" />
<path d="M648,307 L648,383" fill="none" stroke="#111" stroke-width="0.5" stroke-linejoin="round" stroke-linecap="round" />
<path d="M630,382.5 L650,381" fill="none" stroke="#111" stroke-width="0.7" stroke-linejoin="round" stroke-linecap="round" />
<polygon points="609.8,283.6 626.0,291.7 626.0,304.0 609.8,296.6" fill="none" stroke="#111" stroke-width="0.8" stroke-linejoin="round" />
<polygon points="609.8,299.7 626.0,307.8 626.0,320.1 609.8,312.7" fill="none" stroke="#111" stroke-width="0.8" stroke-linejoin="round" />
<polygon points="609.8,315.8 626.0,323.9 626.0,336.2 609.8,328.8" fill="none" stroke="#111" stroke-width="0.8" stroke-linejoin="round" />
<polygon points="609.8,331.9 626.0,340.0 626.0,352.3 609.8,344.9" fill="none" stroke="#111" stroke-width="0.8" stroke-linejoin="round" />
<polygon points="609.8,348.0 626.0,356.1 626.0,368.4 609.8,361.0" fill="none" stroke="#111" stroke-width="0.8" stroke-linejoin="round" />
<path d="M659,344 L724,309 L725,321 L660,356 Z" fill="#fff" stroke="#111" stroke-width="1.4"/>
<polygon points="667.0,341.0 674.0,337.5 674.0,342.0 667.0,345.5" fill="none" stroke="#111" stroke-width="0.8" stroke-linejoin="round" />
<ellipse cx="701" cy="325.5" rx="2.5" ry="2" transform="rotate(-28 701 325.5)" fill="none" stroke="#111" stroke-width="0.8" />
<ellipse cx="708.5" cy="323" rx="2.5" ry="2.8" transform="rotate(0 708.5 323)" fill="none" stroke="#111" stroke-width="0.8" />
<text x="192" y="217.8" font-size="6.5" letter-spacing="-0.35" text-anchor="middle" stroke="#111" stroke-width="0.18">085</text>
<text x="288" y="281.8" font-size="6.5" letter-spacing="-0.35" text-anchor="middle" stroke="#111" stroke-width="0.18">3o</text>
<text x="314" y="281.8" font-size="6.5" letter-spacing="-0.35" text-anchor="middle" stroke="#111" stroke-width="0.18">004</text>
<text x="345.6" y="281.8" font-size="6.5" letter-spacing="-0.35" text-anchor="middle" stroke="#111" stroke-width="0.18">006</text>
<text x="391" y="361.8" font-size="6.5" letter-spacing="-0.35" text-anchor="middle" stroke="#111" stroke-width="0.18">3l</text>
<text x="256" y="424.8" font-size="6.5" letter-spacing="-0.35" text-anchor="middle" stroke="#111" stroke-width="0.18">002</text>
<text x="189.4" y="405.8" font-size="6.5" letter-spacing="-0.35" text-anchor="middle" stroke="#111" stroke-width="0.18">089</text>
<text x="328.6" y="521.1999999999999" font-size="6.5" letter-spacing="-0.35" text-anchor="middle" stroke="#111" stroke-width="0.18">3e</text>
<text x="454" y="581.1999999999999" font-size="6.5" letter-spacing="-0.35" text-anchor="middle" stroke="#111" stroke-width="0.18">008</text>
<text x="485" y="581.1999999999999" font-size="6.5" letter-spacing="-0.35" text-anchor="middle" stroke="#111" stroke-width="0.18">009</text>
<text x="423.6" y="607.4" font-size="6.5" letter-spacing="-0.35" text-anchor="middle" stroke="#111" stroke-width="0.18">3b</text>
<text x="423.6" y="614.1999999999999" font-size="6.5" letter-spacing="-0.35" text-anchor="middle" stroke="#111" stroke-width="0.18">3f</text>
<text x="571.6" y="410.8" font-size="6.5" letter-spacing="-0.35" text-anchor="middle" stroke="#111" stroke-width="0.18">032</text>
<text x="569" y="443.8" font-size="6.5" letter-spacing="-0.35" text-anchor="middle" stroke="#111" stroke-width="0.18">3t</text>
<text x="612" y="484.8" font-size="6.5" letter-spacing="-0.35" text-anchor="middle" stroke="#111" stroke-width="0.18">033</text>
<text x="549" y="645.8" font-size="6.5" letter-spacing="-0.35" text-anchor="middle" stroke="#111" stroke-width="0.18">045</text>
<text x="589" y="645.8" font-size="6.5" letter-spacing="-0.35" text-anchor="middle" stroke="#111" stroke-width="0.18">3o</text>
<text x="609" y="645.8" font-size="6.5" letter-spacing="-0.35" text-anchor="middle" stroke="#111" stroke-width="0.18">011</text>
<text x="663" y="471.8" font-size="6.5" letter-spacing="-0.35" text-anchor="middle" stroke="#111" stroke-width="0.18">080</text>
<text x="520" y="231.8" font-size="6.5" letter-spacing="-0.35" text-anchor="middle" stroke="#111" stroke-width="0.18">007</text>
<text x="537" y="317.8" font-size="6.5" letter-spacing="-0.35" text-anchor="middle" stroke="#111" stroke-width="0.18">020</text>
<text x="700.5" y="399.3" font-size="6.5" letter-spacing="-0.35" text-anchor="middle" stroke="#111" stroke-width="0.18">017</text>
<text x="484" y="285.8" font-size="6.5" letter-spacing="-0.35" text-anchor="middle" stroke="#111" stroke-width="0.18">040</text>
<text x="26" y="672" font-size="6.4" letter-spacing="-0.35" text-anchor="start" stroke="#111" stroke-width="0.18">5781 533</text>
<text x="60" y="672" font-size="6.4" letter-spacing="-0.35" text-anchor="start" stroke="#111" stroke-width="0.18">7/98</text>
<circle cx="368" cy="512" r="5" fill="#fff" stroke="#111" stroke-width="0.9"/>
<text x="368.4" y="514.3" font-size="6.2" font-weight="bold" text-anchor="middle">A</text>
<line x1="192.4" y1="219" x2="192.4" y2="287" stroke="#555" stroke-width="0.7" stroke-dasharray="1,1"/>
<line x1="287.2" y1="284.6" x2="287.2" y2="344" stroke="#555" stroke-width="0.7"/>
<line x1="313.6" y1="287" x2="313.6" y2="329" stroke="#555" stroke-width="0.7"/>
<line x1="345" y1="284.6" x2="345" y2="358" stroke="#555" stroke-width="0.7"/>
<line x1="371" y1="359" x2="386" y2="359" stroke="#555" stroke-width="0.7"/>
<line x1="256" y1="358" x2="256" y2="417" stroke="#555" stroke-width="0.7"/>
<line x1="189.4" y1="408" x2="189.4" y2="471" stroke="#555" stroke-width="0.7" stroke-dasharray="1,1"/>
<line x1="328.6" y1="488" x2="328.6" y2="514" stroke="#555" stroke-width="0.7" stroke-dasharray="1,1"/>
<line x1="373" y1="511.6" x2="403" y2="511.6" stroke="#555" stroke-width="0.7"/>
<line x1="455" y1="511" x2="455" y2="574" stroke="#555" stroke-width="0.7"/>
<line x1="485" y1="495" x2="485" y2="573" stroke="#555" stroke-width="0.7"/>
<line x1="423" y1="519" x2="423" y2="602" stroke="#555" stroke-width="0.7"/>
<line x1="480" y1="408" x2="534" y2="408" stroke="#999" stroke-width="0.6" stroke-dasharray="6,1,1,1"/>
<line x1="519" y1="442" x2="564" y2="442" stroke="#555" stroke-width="0.7"/>
<line x1="572" y1="482.4" x2="600" y2="482.4" stroke="#999" stroke-width="0.6" stroke-dasharray="6,1,1,1"/>
<line x1="549" y1="594" x2="549" y2="640" stroke="#555" stroke-width="0.7"/>
<line x1="588.6" y1="594" x2="588.6" y2="640" stroke="#555" stroke-width="0.7" stroke-dasharray="1,1"/>
<line x1="609.6" y1="592" x2="609.6" y2="640" stroke="#555" stroke-width="0.7"/>
<line x1="663.5" y1="475" x2="663.5" y2="515" stroke="#555" stroke-width="0.7"/>
<line x1="529" y1="229.6" x2="535" y2="229.6" stroke="#555" stroke-width="0.6"/>
<line x1="545.6" y1="315.8" x2="585.6" y2="315.8" stroke="#555" stroke-width="0.7"/>
<line x1="701" y1="347.5" x2="701" y2="392.5" stroke="#555" stroke-width="0.7"/>
<line x1="484.4" y1="288" x2="484.4" y2="313" stroke="#555" stroke-width="0.7"/>
</g></svg></body></html>
